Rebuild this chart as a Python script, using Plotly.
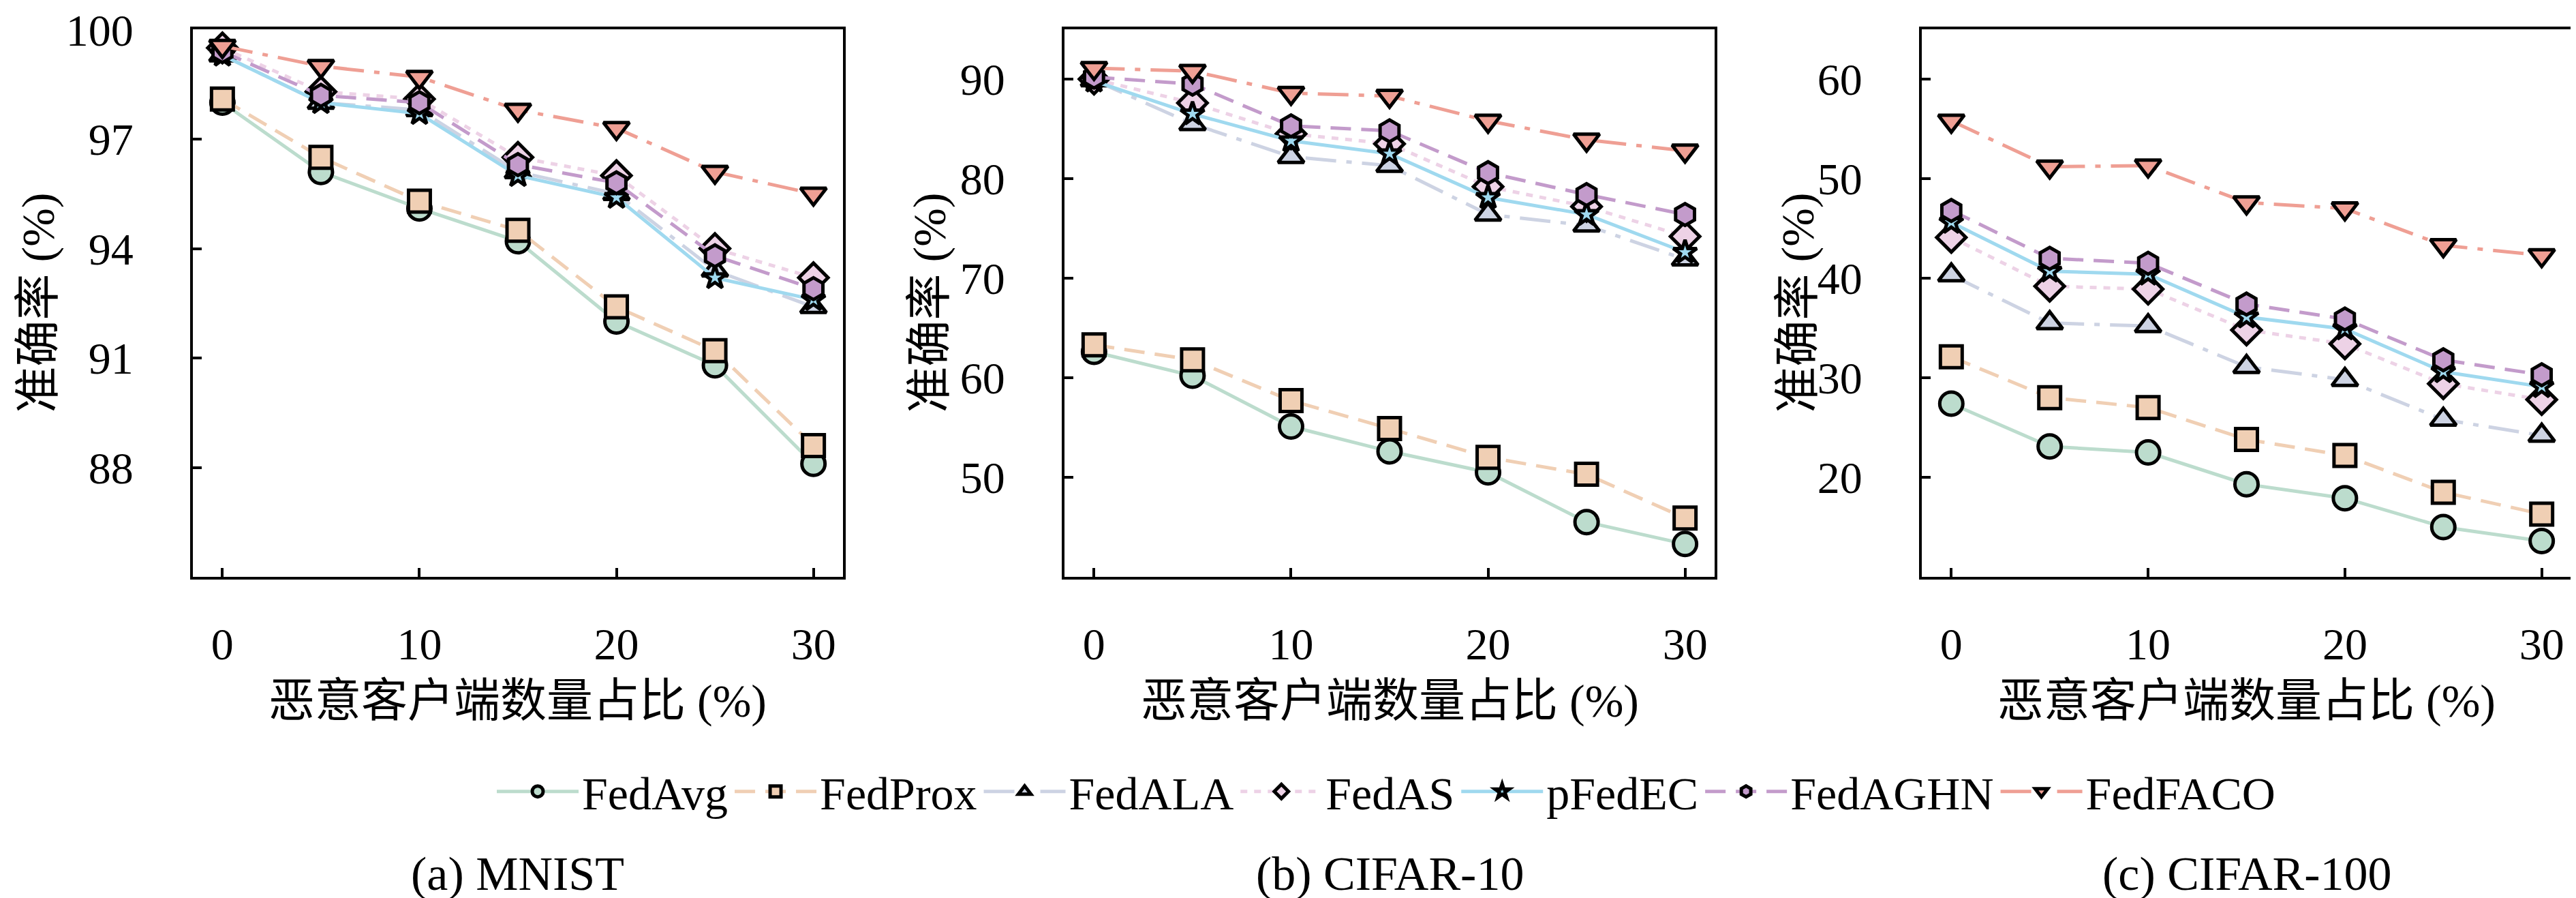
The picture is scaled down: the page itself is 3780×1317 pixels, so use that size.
import plotly.graph_objects as go
from plotly.subplots import make_subplots

# x: proportion of malicious clients (%)
ratios = [0, 5, 10, 15, 20, 25, 30]
methods = ["FedAvg", "FedProx", "FedALA", "FedAS", "pFedEC", "FedAGHN", "FedFACO"]

# (a) MNIST accuracy (%)
mnist_fedavg = [98.0, 96.1, 95.1, 94.2, 92.0, 90.8, 88.1]
mnist_fedprox = [98.1, 96.5, 95.3, 94.5, 92.4, 91.2, 88.6]
mnist_fedala = [99.3, 98.0, 97.8, 96.1, 95.5, 93.4, 92.4]
mnist_fedas = [99.5, 98.3, 98.1, 96.5, 96.0, 94.0, 93.2]
mnist_pfedec = [99.3, 98.0, 97.7, 96.0, 95.4, 93.2, 92.6]
mnist_fedaghn = [99.4, 98.2, 98.0, 96.3, 95.8, 93.8, 92.9]
mnist_fedfaco = [99.55, 99.0, 98.7, 97.8, 97.3, 96.1, 95.5]

# (b) CIFAR-10 accuracy (%)
c10_fedavg = [62.6, 60.2, 55.1, 52.6, 50.5, 45.5, 43.3]
c10_fedprox = [63.3, 61.8, 57.7, 54.9, 52.0, 50.3, 45.9]
c10_fedala = [89.9, 85.5, 82.2, 81.3, 76.4, 75.3, 71.9]
c10_fedas = [90.0, 87.6, 84.5, 83.5, 79.2, 77.2, 74.2]
c10_pfedec = [89.8, 86.5, 83.8, 82.5, 78.1, 76.4, 72.6]
c10_fedaghn = [90.2, 89.5, 85.3, 84.8, 80.6, 78.4, 76.4]
c10_fedfaco = [91.1, 90.8, 88.6, 88.3, 85.8, 83.9, 82.8]

# (c) CIFAR-100 accuracy (%)
c100_fedavg = [27.4, 23.1, 22.5, 19.3, 17.9, 15.0, 13.6]
c100_fedprox = [32.1, 28.0, 27.0, 23.8, 22.2, 18.5, 16.3]
c100_fedala = [40.3, 35.5, 35.2, 31.1, 29.8, 25.8, 24.2]
c100_fedas = [44.1, 39.2, 38.9, 34.8, 33.4, 29.4, 27.8]
c100_pfedec = [45.6, 40.7, 40.4, 36.1, 34.9, 30.6, 29.1]
c100_fedaghn = [46.8, 42.0, 41.5, 37.4, 35.9, 31.8, 30.3]
c100_fedfaco = [55.8, 51.2, 51.3, 47.6, 47.0, 43.3, 42.3]

panels = [
    [mnist_fedavg, mnist_fedprox, mnist_fedala, mnist_fedas, mnist_pfedec, mnist_fedaghn, mnist_fedfaco],
    [c10_fedavg, c10_fedprox, c10_fedala, c10_fedas, c10_pfedec, c10_fedaghn, c10_fedfaco],
    [c100_fedavg, c100_fedprox, c100_fedala, c100_fedas, c100_pfedec, c100_fedaghn, c100_fedfaco],
]
captions = ["(a) MNIST", "(b) CIFAR-10", "(c) CIFAR-100"]
y_ranges = [[85, 100.01], [40, 95], [10, 65]]
y_ticks = [[88, 91, 94, 97, 100], [50, 60, 70, 80, 90], [20, 30, 40, 50, 60]]

colors = ["#bcdccd", "#f0cfb4", "#cdd3e3", "#edd2e6", "#9fd9ef", "#c39bcb", "#ef9f94"]
symbols = ["circle", "square", "triangle-up", "diamond", "star", "hexagon", "triangle-down"]
sizes = [34, 32, 33, 33, 26, 32, 33]
dashes = ["solid", "30px,15px", "45px,15px,8px,15px", "10px,10px", "solid", "30px,15px", "45px,15px,8px,15px"]

FONT = "Liberation Serif, Noto Sans CJK SC, serif"
W, H = 3780, 1317

x_doms = [[275 / W, 1229 / W], [1554 / W, 2508 / W], [2812 / W, 3765 / W]]
y_dom = [1 - 838 / H, 1 - 35 / H]
ytitle_x = [48 / W, 1356 / W, 2630 / W]

fig = make_subplots(rows=1, cols=3)

for p, series in enumerate(panels):
    for i, name in enumerate(methods):
        fig.add_trace(go.Scatter(
            x=ratios, y=series[i], name=name, mode="lines+markers",
            line=dict(color=colors[i], width=5, dash=dashes[i]),
            marker=dict(symbol=symbols[i], size=sizes[i], color=colors[i],
                        line=dict(color="black", width=5)),
            showlegend=(p == 0), legendgroup=name,
        ), row=1, col=p + 1)

axis_common = dict(showline=True, linecolor="black", linewidth=4, mirror=True,
                   ticks="inside", ticklen=13, tickwidth=4, tickcolor="black",
                   showgrid=False, zeroline=False, ticklabeloverflow="allow",
                   automargin=False,
                   tickfont=dict(family=FONT, size=66, color="black"))

for p in range(3):
    fig.update_xaxes(axis_common, domain=x_doms[p], range=[-1.5, 31.5],
                     tickvals=[0, 10, 20, 30], ticklabelstandoff=38, row=1, col=p + 1)
    fig.update_yaxes(axis_common, domain=y_dom, range=y_ranges[p],
                     tickvals=y_ticks[p], ticklabelstandoff=70, row=1, col=p + 1)
    cx = (x_doms[p][0] + x_doms[p][1]) / 2
    fig.add_annotation(text="恶意客户端数量占比 (%)", x=cx, y=1 - 1020 / H, xref="paper", yref="paper",
                       xanchor="center", yanchor="middle", showarrow=False,
                       font=dict(family=FONT, size=68, color="black"))
    fig.add_annotation(text="准确率 (%)", x=ytitle_x[p], y=(y_dom[0] + y_dom[1]) / 2,
                       xref="paper", yref="paper", xanchor="center", yanchor="middle",
                       textangle=-90, showarrow=False,
                       font=dict(family=FONT, size=68, color="black"))
    fig.add_annotation(text=captions[p], x=cx, y=1 - 1273 / H, xref="paper", yref="paper",
                       xanchor="center", yanchor="middle", showarrow=False,
                       font=dict(family=FONT, size=70, color="black"))

fig.update_layout(
    width=W, height=H, margin=dict(l=0, r=0, t=0, b=0),
    plot_bgcolor="white", paper_bgcolor="white",
    legend=dict(orientation="h", x=2026 / W, xanchor="center", y=1 - 1153 / H, yanchor="middle",
                font=dict(family=FONT, size=68, color="black"), itemwidth=120,
                bgcolor="rgba(0,0,0,0)"),
)

fig.write_html("out.html")
